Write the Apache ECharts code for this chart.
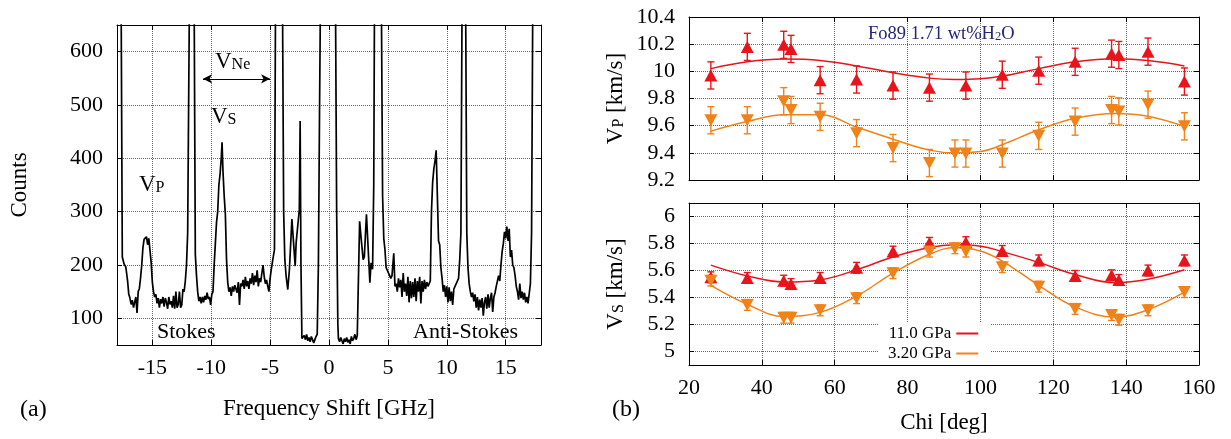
<!DOCTYPE html>
<html>
<head>
<meta charset="utf-8">
<title>Brillouin spectrum and velocities</title>
<script src="https://cdn.jsdelivr.net/npm/echarts@6/dist/echarts.min.js"></script>
<style>
  html, body { margin: 0; padding: 0; background: #fff; }
  #chart { width: 1231px; height: 439px; }
</style>
</head>
<body>
<div id="chart"></div>
<script>
var FONT = 'Liberation Serif';
var RED = '#e8141b';
var ORANGE = '#f0821a';

// ---- panel (a): Brillouin spectrum (10 points per row) ----
var freq = [
  -18.0, -17.65, -17.55, -17.4, -17.25, -17.1, -17.0, -16.9, -16.8, -16.7,
  -16.6, -16.5, -16.4, -16.3, -16.2, -16.1, -16.0, -15.9, -15.8, -15.7,
  -15.6, -15.5, -15.4, -15.3, -15.2, -15.1, -15.0, -14.9, -14.8, -14.7,
  -14.6, -14.5, -14.4, -14.3, -14.2, -14.1, -14.0, -13.9, -13.8, -13.7,
  -13.6, -13.5, -13.4, -13.3, -13.2, -13.1, -13.0, -12.9, -12.8, -12.7,
  -12.6, -12.5, -12.4, -12.3, -12.2, -12.1, -12.0, -11.85, -11.62, -11.45,
  -11.35, -11.25, -11.15, -11.05, -10.95, -10.85, -10.75, -10.65, -10.55, -10.45,
  -10.35, -10.25, -10.15, -10.05, -9.95, -9.85, -9.75, -9.65, -9.55, -9.45,
  -9.35, -9.25, -9.15, -9.08, -9.0, -8.9, -8.8, -8.7, -8.6, -8.5,
  -8.4, -8.3, -8.2, -8.1, -8.0, -7.9, -7.8, -7.7, -7.6, -7.5,
  -7.4, -7.3, -7.2, -7.1, -7.0, -6.9, -6.8, -6.7, -6.6, -6.5,
  -6.4, -6.3, -6.2, -6.1, -6.0, -5.9, -5.8, -5.7, -5.6, -5.5,
  -5.4, -5.3, -5.2, -5.1, -5.0, -4.9, -4.77, -4.63, -4.5, -4.2,
  -3.95, -3.85, -3.75, -3.64, -3.5, -3.36, -3.15, -3.01, -2.87, -2.79,
  -2.64, -2.52, -2.45, -2.38, -2.3, -2.2, -2.1, -2.0, -1.9, -1.8,
  -1.7, -1.6, -1.5, -1.4, -1.3, -1.2, -1.1, -1.0, -0.9, -0.8,
  -0.65, -0.3, 0.3, 0.55, 0.65, 0.75, 0.8, 0.9, 1.0, 1.1,
  1.2, 1.3, 1.4, 1.5, 1.6, 1.7, 1.8, 1.9, 2.0, 2.1,
  2.2, 2.3, 2.4, 2.5, 2.6, 2.7, 2.8, 2.9, 3.0, 3.18,
  3.3, 3.47, 3.57, 3.7, 3.8, 3.9, 4.15, 4.4, 4.46, 4.55,
  4.65, 4.75, 4.85, 4.95, 5.05, 5.15, 5.25, 5.35, 5.5, 5.6,
  5.7, 5.8, 5.9, 6.0, 6.1, 6.2, 6.3, 6.4, 6.5, 6.6,
  6.7, 6.8, 6.9, 7.0, 7.1, 7.2, 7.3, 7.4, 7.5, 7.6,
  7.7, 7.8, 7.9, 8.0, 8.1, 8.2, 8.3, 8.4, 8.5, 8.6,
  8.7, 8.8, 8.9, 9.0, 9.1, 9.2, 9.3, 9.4, 9.5, 9.6,
  9.7, 9.8, 9.9, 10.0, 10.1, 10.2, 10.3, 10.4, 10.5, 10.6,
  10.7, 10.8, 10.9, 11.0, 11.1, 11.2, 11.3, 11.45, 11.6, 11.7,
  11.8, 11.9, 12.0, 12.1, 12.2, 12.3, 12.4, 12.5, 12.6, 12.7,
  12.8, 12.9, 13.0, 13.1, 13.2, 13.3, 13.4, 13.5, 13.6, 13.7,
  13.8, 13.9, 14.0, 14.1, 14.2, 14.3, 14.4, 14.5, 14.6, 14.7,
  14.8, 14.9, 15.0, 15.1, 15.2, 15.3, 15.4, 15.5, 15.6, 15.7,
  15.8, 15.9, 16.0, 16.1, 16.2, 16.3, 16.4, 16.5, 16.6, 16.7,
  16.8, 16.9, 17.0, 17.1, 17.2, 17.35, 17.5, 18.0
];
var counts = [
  5000, 700, 215, 202, 196, 170, 145, 138, 126, 134,
  120, 130, 140, 110, 150, 156, 176, 200, 232, 248,
  245, 253, 238, 250, 228, 205, 168, 150, 140, 145,
  128, 138, 120, 136, 128, 140, 122, 138, 130, 118,
  140, 126, 132, 120, 142, 118, 150, 120, 126, 150,
  120, 125, 155, 150, 170, 200, 260, 700, 5000, 700,
  220, 180, 150, 132, 140, 128, 140, 130, 142, 135,
  148, 136, 140, 125, 145, 150, 200, 240, 280, 300,
  350, 370, 400, 430, 375, 330, 295, 210, 168, 150,
  158, 142, 160, 150, 162, 155, 148, 168, 125, 165,
  160, 172, 155, 178, 160, 170, 155, 175, 165, 185,
  162, 180, 168, 190, 160, 175, 168, 185, 200, 178,
  165, 172, 160, 150, 175, 192, 210, 229, 900, 5000,
  700, 300, 210, 179, 154, 192, 286, 242, 198, 242,
  245, 304, 470, 200, 62, 60, 68, 60, 70, 58,
  64, 56, 66, 60, 54, 60, 66, 70, 200, 500,
  900, 9000, 9000, 700, 300, 90, 62, 56, 64, 58,
  52, 62, 56, 64, 55, 60, 52, 66, 58, 62,
  70, 60, 68, 65, 282, 257, 255, 210, 215, 295,
  242, 167, 204, 192, 350, 900, 5000, 900, 650, 330,
  250, 229, 195, 192, 185, 180, 175, 180, 222, 160,
  165, 150, 175, 158, 172, 140, 185, 150, 165, 142,
  178, 130, 170, 138, 168, 140, 175, 132, 170, 150,
  178, 128, 170, 150, 172, 155, 168, 160, 165, 170,
  300, 355, 380, 395, 415, 330, 245, 238, 195, 175,
  150, 162, 140, 160, 130, 158, 132, 150, 125, 155,
  160, 162, 170, 175, 210, 260, 700, 5000, 700, 260,
  195, 165, 150, 140, 148, 132, 145, 120, 140, 115,
  135, 120, 138, 105, 130, 140, 118, 145, 120, 138,
  148, 112, 140, 148, 160, 158, 180, 170, 200, 225,
  240, 262, 250, 272, 245, 268, 215, 228, 200, 195,
  180, 160, 150, 135, 165, 138, 150, 135, 148, 130,
  140, 128, 125, 165, 260, 900, 3000, 5000
];
var freqTicks = [-15, -10, -5, 0, 5, 10, 15];
var countTicks = [100, 200, 300, 400, 500, 600];

// ---- panel (b): velocities vs Chi ----
var chiHi = [26, 36, 46, 48, 56, 66, 76, 86, 96, 106, 116, 126, 136, 138, 146, 156];
var vpHi = [9.97, 10.18, 10.195, 10.165, 9.935, 9.94, 9.895, 9.88, 9.895, 9.975, 10.005, 10.07, 10.13, 10.12, 10.145, 9.925];
var vsHi = [5.55, 5.545, 5.525, 5.50, 5.545, 5.62, 5.74, 5.805, 5.81, 5.745, 5.675, 5.56, 5.565, 5.53, 5.60, 5.675];

var chiLo = [26, 36, 46, 48, 56, 66, 76, 86, 93, 96, 106, 116, 126, 136, 138, 146, 156];
var vpLo = [9.64, 9.64, 9.78, 9.715, 9.665, 9.545, 9.435, 9.325, 9.395, 9.395, 9.395, 9.525, 9.63, 9.715, 9.705, 9.755, 9.595];
var vsLo = [5.525, 5.345, 5.25, 5.25, 5.305, 5.395, 5.58, 5.74, 5.765, 5.74, 5.625, 5.48, 5.315, 5.27, 5.235, 5.305, 5.44];

var VP_ERR = 0.1;
var VS_ERR = 0.04;

var fitChi = [26, 36, 46, 56, 66, 76, 86, 93, 100, 106, 116, 126, 137, 146, 156];
var vpHiFit = [10.02, 10.07, 10.09, 10.08, 10.04, 9.99, 9.95, 9.94, 9.945, 9.965, 10.02, 10.07, 10.092, 10.08, 10.04];
var vpLoFit = [9.56, 9.63, 9.68, 9.68, 9.59, 9.50, 9.42, 9.40, 9.41, 9.46, 9.57, 9.655, 9.69, 9.67, 9.595];
var vsHiFit = [5.64, 5.56, 5.515, 5.53, 5.605, 5.70, 5.77, 5.79, 5.78, 5.74, 5.66, 5.57, 5.51, 5.535, 5.605];
var vsLoFit = [5.49, 5.35, 5.26, 5.29, 5.41, 5.58, 5.72, 5.77, 5.745, 5.67, 5.49, 5.33, 5.255, 5.31, 5.44];

var chiTicks = [20, 40, 60, 80, 100, 120, 140, 160];
var vpTicks = [9.2, 9.4, 9.6, 9.8, 10, 10.2, 10.4];
var vsTicks = [5, 5.2, 5.4, 5.6, 5.8, 6];

var LEGEND_HI = '11.0 GPa';
var LEGEND_LO = '3.20 GPa';

function zip(xs, ys) {
  return xs.map(function (x, i) { return [x, ys[i]]; });
}
function withErr(xs, ys, err) {
  return xs.map(function (x, i) { return [x, ys[i] - err, ys[i] + err]; });
}

var sub = {
  v: { fontFamily: FONT, fontSize: 23, color: '#000', verticalAlign: 'top', lineHeight: 23 },
  s: { fontFamily: FONT, fontSize: 16, color: '#000', verticalAlign: 'bottom', lineHeight: 16, padding: [10, 0, 0, 0] }
};

// primary axis (labels + dotted grid) or mirror axis (ticks only)
function axis(gridIndex, position, min, max, ticks, opts) {
  opts = opts || {};
  var a = {
    type: 'value',
    gridIndex: gridIndex,
    position: position,
    min: min,
    max: max,
    axisLine: { show: true, onZero: false, lineStyle: { color: '#000', width: 1 } },
    axisTick: { show: true, inside: true, length: 5, customValues: ticks, lineStyle: { color: '#000' } },
    axisLabel: {
      show: !!opts.labels,
      customValues: ticks,
      fontFamily: FONT,
      fontSize: 22,
      color: '#000',
      margin: opts.margin || 12
    },
    splitLine: { show: !!opts.grid, lineStyle: { color: '#666', type: 'dotted', width: 1 } }
  };
  if (opts.name) {
    a.name = opts.name;
    a.nameLocation = 'middle';
    a.nameGap = opts.nameGap;
    a.nameTextStyle = { fontFamily: FONT, fontSize: 23, color: '#000', rich: sub };
  }
  return a;
}

function renderErr(params, api) {
  var x = api.value(0);
  var hi = api.coord([x, api.value(2)]);
  var lo = api.coord([x, api.value(1)]);
  var w = 3.5;
  var st = { stroke: api.visual('color'), lineWidth: 1.4 };
  return {
    type: 'group',
    children: [
      { type: 'line', shape: { x1: hi[0], y1: hi[1], x2: lo[0], y2: lo[1] }, style: st },
      { type: 'line', shape: { x1: hi[0] - w, y1: hi[1], x2: hi[0] + w, y2: hi[1] }, style: st },
      { type: 'line', shape: { x1: lo[0] - w, y1: lo[1], x2: lo[0] + w, y2: lo[1] }, style: st }
    ]
  };
}

function fitLine(name, color, grid, chi, vals) {
  return {
    name: name, type: 'line', xAxisIndex: grid * 2, yAxisIndex: grid * 2,
    data: zip(chi, vals), smooth: 0.4, symbol: 'none', color: color,
    lineStyle: { color: color, width: 1.5 }, z: 2
  };
}
function errSeries(color, grid, chi, vals, err) {
  return {
    type: 'custom', xAxisIndex: grid * 2, yAxisIndex: grid * 2,
    data: withErr(chi, vals, err), renderItem: renderErr, color: color,
    encode: { x: 0, y: [1, 2] }, z: 3
  };
}
function markers(color, grid, chi, vals, down) {
  return {
    type: 'scatter', xAxisIndex: grid * 2, yAxisIndex: grid * 2,
    data: zip(chi, vals), symbol: 'triangle', symbolSize: [13, 12],
    symbolRotate: down ? 180 : 0, itemStyle: { color: color, opacity: 1 }, z: 4
  };
}

var chart = echarts.init(document.getElementById('chart'));

var option = {
  animation: false,
  backgroundColor: '#fff',
  grid: [
    { left: 117, top: 25, width: 424, height: 320 },
    { left: 689, top: 17, width: 510, height: 163 },
    { left: 689, top: 203, width: 510, height: 162 }
  ],
  xAxis: [
    axis(0, 'bottom', -18, 18, freqTicks, { labels: true, grid: true, name: 'Frequency Shift [GHz]', nameGap: 52 }),
    axis(0, 'top', -18, 18, freqTicks),
    axis(1, 'bottom', 20, 160, chiTicks, { grid: true }),
    axis(1, 'top', 20, 160, chiTicks),
    axis(2, 'bottom', 20, 160, chiTicks, { labels: true, grid: true, name: 'Chi [deg]', nameGap: 46 }),
    axis(2, 'top', 20, 160, chiTicks)
  ],
  yAxis: [
    axis(0, 'left', 50, 650, countTicks, { labels: true, grid: true, margin: 14, name: 'Counts', nameGap: 86 }),
    axis(0, 'right', 50, 650, countTicks),
    axis(1, 'left', 9.2, 10.4, vpTicks, { labels: true, grid: true, margin: 14, name: '{v|V}{s|P}{v| [km/s]}', nameGap: 62 }),
    axis(1, 'right', 9.2, 10.4, vpTicks),
    axis(2, 'left', 4.9, 6.1, vsTicks, { labels: true, grid: true, margin: 14, name: '{v|V}{s|S}{v| [km/s]}', nameGap: 62 }),
    axis(2, 'right', 4.9, 6.1, vsTicks)
  ],
  legend: {
    data: [{ name: LEGEND_HI, icon: 'rect' }, { name: LEGEND_LO, icon: 'rect' }],
    orient: 'vertical',
    align: 'right',
    left: 878,
    top: 322,
    itemWidth: 22,
    itemHeight: 2,
    itemGap: 3,
    padding: [3, 12, 3, 10],
    backgroundColor: '#fff',
    textStyle: { fontFamily: FONT, fontSize: 17, color: '#000' }
  },
  graphic: [
    { type: 'text', left: 20, top: 398, style: { text: '(a)', fontFamily: FONT, fontSize: 24, fill: '#000' } },
    { type: 'text', left: 612, top: 398, style: { text: '(b)', fontFamily: FONT, fontSize: 24, fill: '#000' } },
    { type: 'text', left: 139, top: 170, style: { text: '{v|V}{s|P}', rich: sub } },
    { type: 'text', left: 211, top: 102, style: { text: '{v|V}{s|S}', rich: sub } },
    { type: 'text', left: 215, top: 47, style: { text: '{v|V}{s|Ne}', rich: sub } },
    { type: 'text', left: 157, top: 321, style: { text: 'Stokes', fontFamily: FONT, fontSize: 22, fill: '#000' } },
    { type: 'text', left: 413, top: 321, style: { text: 'Anti-Stokes', fontFamily: FONT, fontSize: 22, fill: '#000' } },
    {
      type: 'text', left: 868, top: 21, z: 10,
      style: {
        text: '{a|Fo89 1.71 wt%H}{b|2}{a|O}',
        rich: {
          a: { fontFamily: FONT, fontSize: 18.5, fill: '#25257a', color: '#25257a', verticalAlign: 'top', lineHeight: 18 },
          b: { fontFamily: FONT, fontSize: 12.5, fill: '#25257a', color: '#25257a', verticalAlign: 'bottom', lineHeight: 12, padding: [9, 0, 0, 0] }
        }
      }
    }
  ],
  series: [
    {
      type: 'line', xAxisIndex: 0, yAxisIndex: 0,
      data: zip(freq, counts), symbol: 'none', clip: true,
      lineStyle: { color: '#000', width: 1.7 }, z: 3,
      markLine: {
        silent: true, symbol: ['arrow', 'arrow'], symbolSize: [7, 9],
        label: { show: false },
        lineStyle: { color: '#000', width: 1, type: 'solid' },
        data: [[{ coord: [-10.7, 549] }, { coord: [-5.0, 549] }]]
      }
    },
    fitLine(LEGEND_HI, RED, 1, fitChi, vpHiFit),
    fitLine(LEGEND_LO, ORANGE, 1, fitChi, vpLoFit),
    fitLine(LEGEND_HI, RED, 2, fitChi, vsHiFit),
    fitLine(LEGEND_LO, ORANGE, 2, fitChi, vsLoFit),
    errSeries(RED, 1, chiHi, vpHi, VP_ERR),
    errSeries(ORANGE, 1, chiLo, vpLo, VP_ERR),
    errSeries(RED, 2, chiHi, vsHi, VS_ERR),
    errSeries(ORANGE, 2, chiLo, vsLo, VS_ERR),
    markers(RED, 1, chiHi, vpHi, false),
    markers(ORANGE, 1, chiLo, vpLo, true),
    markers(RED, 2, chiHi, vsHi, false),
    markers(ORANGE, 2, chiLo, vsLo, true)
  ]
};

chart.setOption(option);
</script>
</body>
</html>
